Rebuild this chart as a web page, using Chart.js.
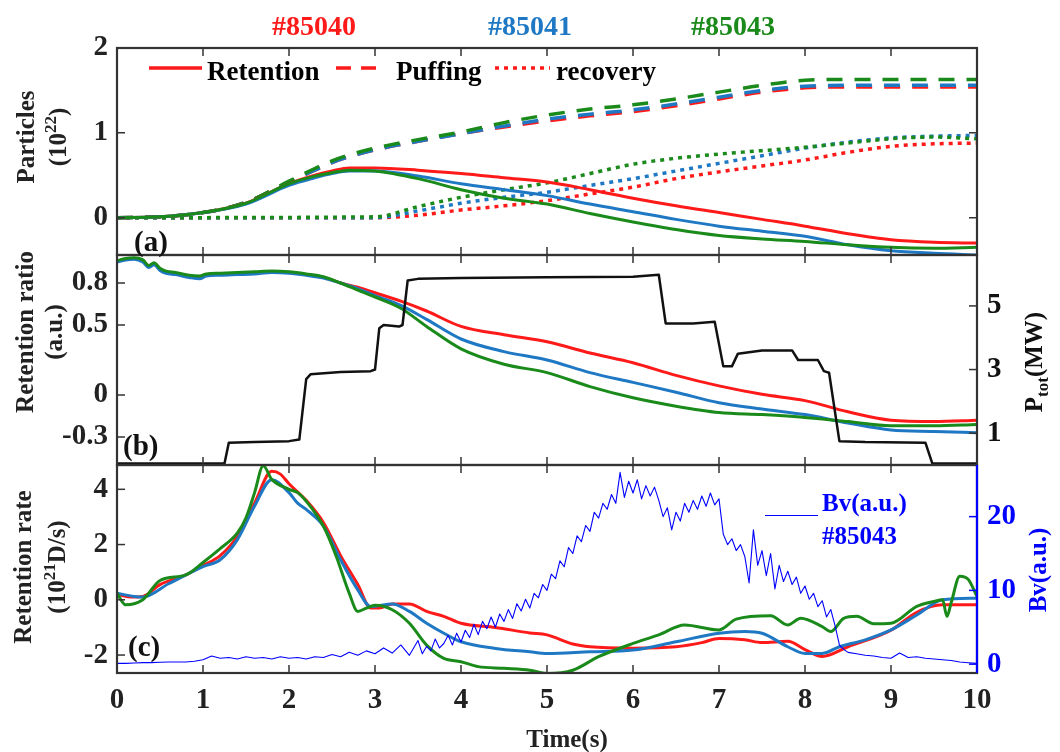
<!DOCTYPE html>
<html><head><meta charset="utf-8">
<script src="https://cdn.jsdelivr.net/npm/chart.js@4.4.1/dist/chart.umd.min.js"></script>
<style>
html,body{margin:0;padding:0;background:#fff;}
#wrap{position:relative;width:1060px;height:752px;overflow:hidden;background:#fff;}
canvas{position:absolute;left:0;top:0;}
.t{position:absolute;font-family:"Liberation Serif","Times New Roman",serif;font-weight:bold;white-space:nowrap;line-height:1;}
.rot{transform:translate(-50%,-50%) rotate(-90deg);}
.c{transform:translate(-50%,-50%);}
.l{transform:translate(0,-50%);}
sup,sub{font-size:0.68em;}
</style></head>
<body><div id="wrap">
<canvas id="ca" width="1060" height="752"></canvas>
<canvas id="cb" width="1060" height="752"></canvas>
<canvas id="cc" width="1060" height="752"></canvas>

<div class="t c" style="left:314px;top:26px;font-size:28px;color:#ff1a1a;">#85040</div>
<div class="t c" style="left:530px;top:26px;font-size:28px;color:#1f78c4;">#85041</div>
<div class="t c" style="left:733px;top:26px;font-size:28px;color:#1a8a1a;">#85043</div>

<div class="t l" style="left:207px;top:71px;font-size:27px;color:#000;">Retention</div>
<div class="t l" style="left:396px;top:71px;font-size:27px;color:#000;">Puffing</div>
<div class="t l" style="left:556px;top:71px;font-size:27px;color:#000;">recovery</div>

<div class="t rot" style="left:25px;top:137px;font-size:25px;color:#222;">Particles</div>
<div class="t rot" style="left:56px;top:137px;font-size:25px;color:#222;">(10<sup>22</sup>)</div>
<div class="t rot" style="left:24px;top:332px;font-size:25px;color:#222;">Retention ratio</div>
<div class="t rot" style="left:53px;top:332px;font-size:25px;color:#222;">(a.u.)</div>
<div class="t rot" style="left:22px;top:567px;font-size:25px;color:#222;">Retention rate</div>
<div class="t rot" style="left:55px;top:567px;font-size:25px;color:#222;">(10<sup>21</sup>D/s)</div>
<div class="t rot" style="left:1036px;top:362px;font-size:25px;color:#111;">P<sub>tot</sub>(MW)</div>
<div class="t rot" style="left:1037px;top:570px;font-size:25px;color:#0000ff;">Bv(a.u.)</div>

<div class="t l" style="left:134px;top:241px;font-size:29px;color:#111;">(a)</div>
<div class="t l" style="left:123px;top:445px;font-size:29px;color:#111;">(b)</div>
<div class="t l" style="left:128px;top:646px;font-size:29px;color:#111;">(c)</div>

<div class="t l" style="left:822px;top:502px;font-size:25px;color:#0000ff;">Bv(a.u.)</div>
<div class="t l" style="left:822px;top:535px;font-size:25px;color:#0000ff;">#85043</div>

<div class="t c" style="left:567px;top:738px;font-size:25px;color:#222;">Time(s)</div>
</div>
<script>
// ---------------- DATA ----------------
const xTickVals = [0,1,2,3,4,5,6,7,8,9,10];
const aTicks = [0,1,2];
const bTicks = [-0.3,0,0.5,0.8];
const pTicks = [1,3,5];
const cTicks = [-2,0,2,4];
const bvTicks = [0,10,20];

// (a) particles
const aTime = [0,0.5,1,1.5,2,2.3,2.5,2.7,3,3.5,4,4.5,5,5.5,6,6.5,7,7.5,8,8.5,9,9.5,10];
const retention85040 = [0,0.01,0.06,0.17,0.40,0.50,0.55,0.585,0.585,0.56,0.52,0.47,0.42,0.33,0.23,0.14,0.06,-0.02,-0.10,-0.19,-0.26,-0.29,-0.30];
const retention85041 = [0,0.01,0.06,0.16,0.38,0.47,0.52,0.55,0.55,0.49,0.40,0.33,0.26,0.16,0.07,-0.02,-0.10,-0.16,-0.22,-0.32,-0.39,-0.42,-0.44];
const retention85043 = [0,0.01,0.06,0.17,0.40,0.49,0.53,0.56,0.55,0.46,0.33,0.23,0.16,0.05,-0.05,-0.14,-0.21,-0.25,-0.28,-0.32,-0.35,-0.36,-0.35];
const puffing85040 = [0,0.01,0.06,0.18,0.42,0.56,0.65,0.72,0.80,0.90,0.99,1.07,1.14,1.20,1.25,1.32,1.40,1.48,1.53,1.54,1.54,1.54,1.54];
const puffing85041 = [0,0.01,0.06,0.18,0.42,0.56,0.65,0.72,0.80,0.90,0.99,1.08,1.16,1.22,1.27,1.34,1.42,1.50,1.55,1.56,1.56,1.56,1.56];
const puffing85043 = [0,0.01,0.06,0.18,0.43,0.58,0.67,0.74,0.82,0.92,1.01,1.12,1.21,1.28,1.33,1.40,1.48,1.56,1.62,1.63,1.63,1.63,1.63];
const recTime = [0,3,3.5,4,4.5,5,5.5,6,6.5,7,7.5,8,8.5,9,9.5,10];
const recovery85040 = [0,0,0.03,0.09,0.14,0.20,0.28,0.36,0.46,0.54,0.61,0.68,0.77,0.84,0.87,0.88];
const recovery85041 = [0,0,0.08,0.17,0.24,0.30,0.38,0.46,0.55,0.64,0.73,0.82,0.89,0.94,0.96,0.97];
const recovery85043 = [0,0.01,0.13,0.24,0.33,0.41,0.52,0.63,0.70,0.75,0.79,0.83,0.88,0.93,0.95,0.93];

// (b) retention ratio + total power
const bTime = [0,0.1,0.2,0.3,0.37,0.43,0.5,0.57,0.68,0.84,0.96,1.04,1.2,1.4,1.6,1.8,2.0,2.2,2.4,2.6,2.8,3.0,3.3,3.6,4.0,4.5,5,5.5,6,6.5,7,7.5,8,8.5,9,9.5,10];
const ratio85040 = [0.955,0.97,0.975,0.96,0.92,0.94,0.90,0.88,0.87,0.85,0.84,0.86,0.865,0.87,0.875,0.88,0.875,0.86,0.84,0.80,0.77,0.73,0.67,0.60,0.49,0.43,0.38,0.30,0.23,0.14,0.065,0.005,-0.04,-0.12,-0.18,-0.19,-0.18];
const ratio85041 = [0.95,0.965,0.97,0.95,0.91,0.93,0.89,0.87,0.86,0.84,0.83,0.85,0.855,0.86,0.865,0.875,0.87,0.855,0.835,0.80,0.76,0.71,0.64,0.54,0.40,0.31,0.25,0.16,0.09,0.02,-0.055,-0.10,-0.14,-0.20,-0.25,-0.26,-0.27];
const ratio85043 = [0.96,0.975,0.98,0.965,0.925,0.945,0.905,0.885,0.875,0.855,0.85,0.865,0.87,0.875,0.88,0.885,0.88,0.865,0.845,0.80,0.75,0.70,0.62,0.49,0.33,0.22,0.16,0.06,-0.02,-0.08,-0.125,-0.14,-0.16,-0.19,-0.22,-0.22,-0.21];
const pTime = [0,1.25,1.3,1.6,2.0,2.12,2.2,2.25,2.6,2.95,3.0,3.05,3.1,3.28,3.32,3.38,3.5,4,5,6,6.3,6.38,6.7,6.95,7.05,7.15,7.22,7.5,7.85,7.92,8.15,8.22,8.28,8.4,8.7,9.4,9.48,10];
const pTot = [0.05,0.05,0.7,0.72,0.75,0.8,2.7,2.85,2.92,2.95,3.0,4.3,4.4,4.35,4.4,5.8,5.85,5.88,5.9,5.92,5.98,4.45,4.45,4.5,3.1,3.1,3.5,3.6,3.6,3.3,3.3,2.95,2.9,0.75,0.72,0.7,0.05,0.05];

// (c) retention rate + Bv
const rate85040 = [[0,0.2],[0.15,0.1],[0.3,0.12],[0.5,0.55],[0.8,0.9],[1.0,1.24],[1.2,1.6],[1.4,2.3],[1.6,3.5],[1.8,4.65],[1.9,4.55],[2.0,4.2],[2.2,3.6],[2.4,2.8],[2.6,1.6],[2.8,0.55],[2.95,-0.3],[3.05,-0.3],[3.2,-0.15],[3.4,-0.15],[3.6,-0.42],[3.8,-0.6],[4.0,-0.85],[4.4,-1.0],[4.8,-1.2],[5.0,-1.27],[5.3,-1.6],[5.5,-1.7],[6.0,-1.75],[6.5,-1.7],[6.8,-1.55],[7.0,-1.4],[7.3,-1.45],[7.5,-1.55],[7.8,-1.5],[8.0,-1.8],[8.2,-2.05],[8.5,-1.7],[9.0,-1.1],[9.3,-0.45],[9.6,-0.18],[10,-0.18]];
const rate85041 = [[0,0.24],[0.2,0.12],[0.3,0.1],[0.6,0.58],[1.0,1.2],[1.2,1.45],[1.4,2.18],[1.6,3.4],[1.8,4.35],[2.0,3.88],[2.1,3.5],[2.2,3.27],[2.4,2.67],[2.6,1.45],[2.8,0.36],[2.95,-0.24],[3.2,-0.15],[3.4,-0.42],[3.6,-0.85],[3.8,-1.21],[4.0,-1.52],[4.4,-1.76],[4.8,-1.88],[5.0,-1.94],[5.5,-1.88],[6.0,-1.82],[6.5,-1.52],[7.0,-1.21],[7.3,-1.15],[7.5,-1.21],[7.8,-1.7],[8.0,-1.94],[8.2,-1.94],[8.4,-1.7],[8.7,-1.45],[9.0,-1.09],[9.3,-0.55],[9.6,0.0],[10,0.06]];
const rate85043 = [[0,0.24],[0.1,-0.18],[0.3,0.0],[0.5,0.7],[0.8,0.9],[1.0,1.35],[1.2,1.85],[1.4,2.42],[1.5,2.97],[1.6,3.88],[1.7,4.85],[1.8,4.36],[2.0,4.0],[2.1,3.88],[2.2,3.57],[2.4,2.67],[2.55,1.57],[2.7,0.24],[2.8,-0.42],[2.9,-0.3],[3.0,-0.2],[3.2,-0.36],[3.4,-0.85],[3.6,-1.64],[3.8,-2.12],[4.0,-2.24],[4.2,-2.42],[4.5,-2.48],[4.8,-2.55],[5.0,-2.67],[5.3,-2.55],[5.6,-2.06],[6.0,-1.58],[6.3,-1.27],[6.6,-0.91],[7.0,-1.09],[7.2,-0.7],[7.6,-0.58],[7.8,-0.91],[7.95,-0.67],[8.2,-0.97],[8.3,-1.15],[8.45,-0.67],[8.6,-0.6],[8.8,-0.87],[9.0,-0.85],[9.3,-0.24],[9.5,-0.06],[9.6,0.0],[9.65,-0.6],[9.7,-0.1],[9.8,0.85],[9.9,0.73],[10,0.12]];
const bvTime = [0,0.1,0.2,0.3,0.4,0.5,0.6,0.7,0.8,0.9,1.0,1.1,1.2,1.3,1.4,1.5,1.6,1.7,1.8,1.9,2.0,2.1,2.2,2.3,2.4,2.5,2.6,2.7,2.8,2.9,3.0,3.1,3.2,3.3,3.4,
 3.5,3.55,3.6,3.65,3.7,3.75,3.8,3.85,3.9,3.95,4.0,4.05,4.1,4.15,4.2,4.25,4.3,4.35,4.4,4.45,4.5,4.55,4.6,4.65,4.7,4.75,4.8,4.85,4.9,4.95,
 5.0,5.05,5.1,5.15,5.2,5.25,5.3,5.35,5.4,5.45,5.5,5.55,5.6,5.65,5.7,5.75,5.8,5.85,5.9,5.95,6.0,6.05,6.1,6.15,6.2,6.25,6.3,6.35,6.4,6.45,
 6.5,6.55,6.6,6.65,6.7,6.75,6.8,6.85,6.9,6.95,7.0,7.05,7.1,7.15,7.2,7.25,7.3,7.35,7.4,7.45,7.5,7.55,7.6,7.65,7.7,7.75,7.8,7.85,7.9,7.95,
 8.0,8.05,8.1,8.15,8.2,8.25,8.3,8.35,8.4,8.45,8.5,8.6,8.7,8.8,8.9,9.0,9.1,9.2,9.3,9.4,9.5,9.6,9.7,9.8,9.9,10];
const bvValue = [0.1,0.1,0.15,0.2,0.2,0.25,0.3,0.3,0.3,0.4,0.6,1.1,0.8,0.9,0.7,1.0,0.8,0.9,0.7,1.0,0.8,0.9,0.7,1.0,0.9,1.3,1.0,1.6,1.2,1.8,1.4,2.2,1.5,2.6,1.2,
 3.2,1.4,2.4,1.8,3.4,2.2,2.8,3.9,2.6,4.2,3.0,4.6,3.6,5.4,4.0,5.8,4.8,6.4,5.0,6.8,5.8,7.4,6.2,8.2,7.2,8.8,7.6,9.6,9.0,10.8,
 10.0,12.2,11.6,14.0,13.2,15.8,15.0,17.4,16.6,18.8,18.0,20.6,19.8,21.8,21.0,23.0,21.8,26.0,22.6,24.8,23.2,25.0,22.4,24.2,22.8,24.0,22.2,20.0,21.2,18.2,
 20.6,19.4,21.8,20.6,22.2,21.0,22.8,21.4,23.2,21.6,22.4,17.6,16.2,17.0,15.4,16.2,14.6,11.0,18.2,13.4,15.4,12.0,15.0,10.2,13.4,11.2,12.6,10.8,11.8,9.6,
 10.6,8.8,9.6,7.8,8.6,6.4,7.4,5.2,2.6,2.0,1.6,1.4,1.2,1.1,0.9,0.8,1.5,0.9,1.0,0.8,0.7,0.6,0.5,0.3,0.2,0.1];

// ---------------- STYLE / LAYOUT ----------------
const FONT = '"Liberation Serif", "Times New Roman", serif';
const PLOT_L = 117, PLOT_R = 977, W = 1060, H = 752;
const RED = '#ff1a1a', BLUE = '#1f78c4', GREEN = '#1a8a1a', BV = '#0000ff';
const zip = (t, v) => t.map((x, i) => ({x: x, y: v[i]}));
const pairs = a => a.map(p => ({x: p[0], y: p[1]}));
const tickFont = {family: FONT, size: 29, weight: 'bold'};

function yScale(min, max, ticks, pos, color, pad) {
  return {
    type: 'linear', position: pos, min: min, max: max,
    afterBuildTicks: s => { s.ticks = ticks.map(v => ({value: v})); },
    ticks: {font: tickFont, color: color, padding: pad},
    grid: {display: false, drawTicks: false},
    border: {display: false},
    afterFit: s => { s.width = pos === 'left' ? PLOT_L : (W - PLOT_R); }
  };
}
function xScale(showLabels) {
  return {
    type: 'linear', min: 0, max: 10,
    afterBuildTicks: s => { s.ticks = xTickVals.map(v => ({value: v})); },
    ticks: {display: showLabels, font: tickFont, color: '#222', padding: 10},
    grid: {display: false, drawTicks: false},
    border: {display: false},
    afterFit: s => { s.height = showLabels ? 48 : 0; }
  };
}
// frame + inward tick marks
function framePlugin(spec) {
  return {
    id: 'frame',
    afterDraw(chart) {
      const {ctx, chartArea: a, scales} = chart;
      ctx.save();
      ctx.lineWidth = 1.5;
      ctx.strokeStyle = '#333';
      const xs = scales.x;
      xTickVals.forEach(v => {
        const px = xs.getPixelForValue(v);
        ctx.beginPath();
        ctx.moveTo(px, a.top); ctx.lineTo(px, a.top + 8);
        ctx.moveTo(px, a.bottom); ctx.lineTo(px, a.bottom - 8);
        ctx.stroke();
      });
      spec.forEach(s => {
        const sc = scales[s.id];
        ctx.strokeStyle = s.color;
        sc.ticks.forEach(t => {
          const py = sc.getPixelForValue(t.value);
          ctx.beginPath();
          if (s.left) { ctx.moveTo(a.left, py); ctx.lineTo(a.left + 8, py); }
          if (s.right) { ctx.moveTo(a.right, py); ctx.lineTo(a.right - 8, py); }
          ctx.stroke();
        });
      });
      ctx.lineWidth = 2.2;
      ctx.strokeStyle = '#333';
      ctx.strokeRect(a.left, a.top, a.right - a.left, a.bottom - a.top);
      if (spec.rightColor) {
        ctx.strokeStyle = spec.rightColor;
        ctx.beginPath(); ctx.moveTo(a.right, a.top); ctx.lineTo(a.right, a.bottom); ctx.stroke();
      }
      if (spec.legend) spec.legend(ctx);
      ctx.restore();
    }
  };
}
function line(data, color, width, dash, order, yAxisID, smooth) {
  return {
    data: data, borderColor: color, borderWidth: width, borderDash: dash || [],
    pointRadius: 0, fill: false, order: order, yAxisID: yAxisID,
    cubicInterpolationMode: smooth ? 'monotone' : 'default', tension: 0,
    borderCapStyle: 'butt', borderJoinStyle: 'round'
  };
}
const baseOpts = (padding, scales) => ({
  responsive: false, animation: false, events: [],
  layout: {padding: padding},
  plugins: {legend: {display: false}, tooltip: {enabled: false}, title: {display: false}},
  scales: scales
});

const DOT = [4, 5], DASH = [16, 12];

// ---- Panel (a)
const specA = [{id: 'y', left: true, right: true, color: '#333'}];
specA.legend = ctx => {
  ctx.lineWidth = 3.5; ctx.strokeStyle = RED;
  [[149, 202, []], [336, 384, [15, 10]], [495, 550, [4, 5]]].forEach(s => {
    ctx.setLineDash(s[2]);
    ctx.beginPath(); ctx.moveTo(s[0], 68); ctx.lineTo(s[1], 68); ctx.stroke();
  });
  ctx.setLineDash([]);
};
new Chart(document.getElementById('ca'), {
  type: 'line',
  data: {datasets: [
    line(zip(aTime, retention85043), GREEN, 3, null, 0, 'y', true),
    line(zip(aTime, retention85041), BLUE, 3, null, 1, 'y', true),
    line(zip(aTime, retention85040), RED, 3, null, 2, 'y', true),
    line(zip(aTime, puffing85043), GREEN, 3.5, DASH, 3, 'y', true),
    line(zip(aTime, puffing85041), BLUE, 3.5, DASH, 4, 'y', true),
    line(zip(aTime, puffing85040), RED, 3.5, DASH, 5, 'y', true),
    line(zip(recTime, recovery85043), GREEN, 3.5, DOT, 6, 'y', true),
    line(zip(recTime, recovery85041), BLUE, 3.5, DOT, 7, 'y', true),
    line(zip(recTime, recovery85040), RED, 3.5, DOT, 8, 'y', true)
  ]},
  options: baseOpts({top: 48, bottom: H - 255, left: 0, right: W - PLOT_R},
    {x: xScale(false), y: yScale(-0.44, 2, aTicks, 'left', '#222', 9)}),
  plugins: [framePlugin(specA)]
});

// ---- Panel (b)
const specB = [{id: 'y', left: true, color: '#333'}, {id: 'yP', right: true, color: '#333'}];
new Chart(document.getElementById('cb'), {
  type: 'line',
  data: {datasets: [
    line(zip(pTime, pTot), '#111', 2.5, null, 0, 'yP', false),
    line(zip(bTime, ratio85043), GREEN, 3, null, 1, 'y', true),
    line(zip(bTime, ratio85041), BLUE, 3, null, 2, 'y', true),
    line(zip(bTime, ratio85040), RED, 3, null, 3, 'y', true)
  ]},
  options: baseOpts({top: 255, bottom: H - 465, left: 0, right: 0},
    {x: xScale(false), y: yScale(-0.5, 1.0, bTicks, 'left', '#222', 9), yP: yScale(0, 6.6, pTicks, 'right', '#111', 10)}),
  plugins: [framePlugin(specB)]
});

// ---- Panel (c)
const specC = [{id: 'y', left: true, color: '#333'}, {id: 'yBv', right: true, color: BV}];
specC.rightColor = BV;
specC.legend = ctx => {
  ctx.lineWidth = 1.2; ctx.strokeStyle = BV;
  ctx.beginPath(); ctx.moveTo(765, 515.5); ctx.lineTo(818, 515.5); ctx.stroke();
};
new Chart(document.getElementById('cc'), {
  type: 'line',
  data: {datasets: [
    line(zip(bvTime, bvValue), BV, 1.1, null, 0, 'yBv', false),
    line(pairs(rate85043), GREEN, 3, null, 1, 'y', true),
    line(pairs(rate85041), BLUE, 3, null, 2, 'y', true),
    line(pairs(rate85040), RED, 3, null, 3, 'y', true)
  ]},
  options: baseOpts({top: 465, bottom: H - 673 - 48, left: 0, right: 0},
    {x: xScale(true), y: yScale(-2.65, 4.88, cTicks, 'left', '#222', 9), yBv: yScale(-1.2, 27, bvTicks, 'right', BV, 10)}),
  plugins: [framePlugin(specC)]
});
</script>
</body></html>
